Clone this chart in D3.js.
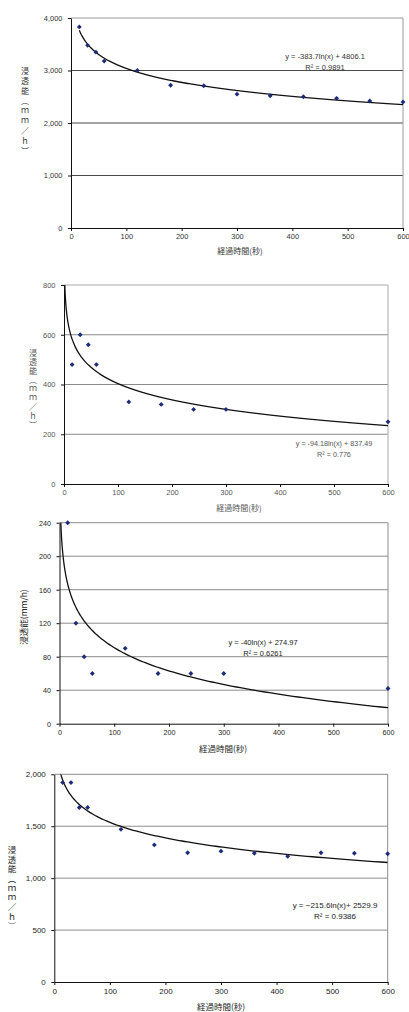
<!DOCTYPE html>
<html>
<head>
<meta charset="utf-8">
<script src="https://cdn.jsdelivr.net/npm/d3@7"></script>
<style>
  body { margin: 0; background: #fff; }
  svg { display: block; }
  text { font-family: "Liberation Sans", Arial, sans-serif; }
  .jp { font-family: "Noto Sans CJK JP", sans-serif; }
  .vert { writing-mode: vertical-rl; text-orientation: upright; }
</style>
</head>
<body>
<svg width="409" height="1012"></svg>
<script>
// data
const time13 = [15, 30, 45, 60, 120, 180, 240, 300, 360, 420, 480, 540, 600];
const time9 = [15, 30, 45, 60, 120, 180, 240, 300, 600];

const rateA = [3830, 3480, 3350, 3180, 3000, 2720, 2710, 2550, 2520, 2500, 2470, 2420, 2400];
const rateB = [480, 600, 560, 480, 330, 320, 300, 300, 250];
const rateC = [240, 120, 80, 60, 90, 60, 60, 60, 42];
const rateD = [1920, 1920, 1680, 1680, 1470, 1320, 1245, 1260, 1240, 1210, 1245, 1240, 1235];

const yTicksA = [0, 1000, 2000, 3000, 4000];
const yTicksB = [0, 200, 400, 600, 800];
const yTicksC = [0, 40, 80, 120, 160, 200, 240];
const yTicksD = [0, 500, 1000, 1500, 2000];
const xTicks = [0, 100, 200, 300, 400, 500, 600];

// log trendline coefficients y = a ln(x) + b, as printed
const trendA = [-383.7, 4806.1];
const trendB = [-94.18, 837.49];
const trendC = [-40, 274.97];
const trendD = [-215.6, 2529.9];

const eqA = ['y = -383.7ln(x) + 4806.1', 'R² = 0.9891'];
const eqB = ['y = -94.18ln(x) + 837.49', 'R² = 0.776'];
const eqC = ['y = -40ln(x) + 274.97', 'R² = 0.6261'];
const eqD = ['y = −215.6ln(x)+ 2529.9', 'R² = 0.9386'];

const xTitle = '経過時間(秒)';
const yTitleVert = '浸透能（ｍｍ／ｈ）';
const yTitleFlat = '浸透能(mm/h)';

const svg = d3.select('svg');

const panels = [
  { id: 'a', xs: time13, ys: rateA, yTicks: yTicksA, trend: trendA, eq: eqA, fromX: 15,
    left: 71, right: 403, top: 18, bottom: 228,
    grid: '#4a4a4a', box: '#9a9a9a', txt: '#333', fs: 7.5, tfs: 8,
    eqX: 325, eqY: 59, eqFs: 7.5, xtY: 254, xtX: 240,
    stack: { x: 25, y0: 67, ls: 2 } },
  { id: 'b', xs: time9, ys: rateB, yTicks: yTicksB, trend: trendB, fromX: 1,
    eq: eqB, left: 64, right: 388, top: 285, bottom: 484,
    grid: '#8a8a8a', box: '#aaaaaa', txt: '#555', fs: 7.5, tfs: 8,
    eqX: 334, eqY: 446, eqFs: 7.2, xtY: 511, xtX: 239,
    stack: { x: 33, y0: 349, ls: 1 } },
  { id: 'c', xs: time9, ys: rateC, yTicks: yTicksC, trend: trendC, fromX: 1,
    eq: eqC, left: 59.5, right: 388, top: 522.7, bottom: 723.7,
    grid: '#8c8c8c', box: '#8c8c8c', txt: '#222', fs: 7.2, tfs: 8.5,
    eqX: 263, eqY: 645, eqFs: 7.5, xtY: 752, xtX: 223,
    flat: { x: 27, y: 617 } },
  { id: 'd', xs: time13, ys: rateD, yTicks: yTicksD, trend: trendD, fromX: 1,
    eq: eqD, left: 54.3, right: 387.7, top: 774.3, bottom: 982,
    grid: '#8c8c8c', box: '#8c8c8c', txt: '#222', fs: 8, tfs: 8.5,
    eqX: 335, eqY: 908, eqFs: 8, xtY: 1010, xtX: 221,
    stack: { x: 12, y0: 846, ls: 1 } }
];

panels.forEach(p => {
  const x = d3.scaleLinear().domain([0, 600]).range([p.left, p.right]);
  const y = d3.scaleLinear().domain([0, d3.max(p.yTicks)]).range([p.bottom, p.top]);
  const g = svg.append('g');

  svg.append('clipPath').attr('id', 'clip-' + p.id)
    .append('rect')
      .attr('x', p.left).attr('y', p.top)
      .attr('width', p.right - p.left).attr('height', p.bottom - p.top);

  // grid lines
  g.selectAll('.grid').data(p.yTicks.filter(d => d > 0))
    .enter().append('line')
      .attr('x1', p.left).attr('x2', p.right)
      .attr('y1', d => y(d)).attr('y2', d => y(d))
      .attr('stroke', d => d === d3.max(p.yTicks) ? p.box : p.grid)
      .attr('stroke-width', 1);

  // right border
  g.append('line')
    .attr('x1', p.right).attr('x2', p.right)
    .attr('y1', p.top).attr('y2', p.bottom)
    .attr('stroke', p.box);

  // axes
  const yAxis = d3.axisLeft(y).tickValues(p.yTicks).tickFormat(d3.format(','))
    .tickSize(3).tickPadding(5.5).tickSizeOuter(0);
  const xAxis = d3.axisBottom(x).tickValues(xTicks)
    .tickSize(3).tickPadding(3).tickSizeOuter(0);

  const yg = g.append('g').attr('transform', `translate(${p.left},0)`).call(yAxis);
  const xg = g.append('g').attr('transform', `translate(0,${p.bottom})`).call(xAxis);
  [yg, xg].forEach(ax => {
    ax.select('.domain').attr('stroke', '#111');
    ax.selectAll('.tick line').attr('stroke', '#111');
    ax.selectAll('text')
      .attr('fill', p.txt)
      .style('font-size', p.fs + 'px')
      .style('font-family', '"Liberation Sans", Arial, sans-serif');
  });

  // trend line
  const a = p.trend[0], b = p.trend[1];
  const pts = d3.range(0, 301).map(i => {
    const xv = p.fromX * Math.pow(600 / p.fromX, i / 300);
    return [xv, a * Math.log(xv) + b];
  });
  g.append('path')
    .datum(pts)
    .attr('clip-path', `url(#clip-${p.id})`)
    .attr('fill', 'none')
    .attr('stroke', '#111')
    .attr('stroke-width', 1.3)
    .attr('d', d3.line().x(d => x(d[0])).y(d => y(d[1])));

  // markers
  g.selectAll('.pt').data(p.xs.map((d, i) => [d, p.ys[i]]))
    .enter().append('path')
      .attr('transform', d => `translate(${x(d[0])},${y(d[1])})`)
      .attr('d', d3.symbol(d3.symbolDiamond2, 15)())
      .attr('fill', '#1c2a78');

  // equation
  g.append('text')
    .attr('x', p.eqX).attr('y', p.eqY)
    .attr('text-anchor', 'middle')
    .attr('fill', p.txt)
    .style('font-size', p.eqFs + 'px')
    .text(p.eq[0]);
  g.append('text')
    .attr('x', p.eqX).attr('y', p.eqY + 11)
    .attr('text-anchor', 'middle')
    .attr('fill', p.txt)
    .style('font-size', p.eqFs + 'px')
    .text(p.eq[1]);

  // x title
  g.append('text')
    .attr('class', 'jp')
    .attr('x', p.xtX).attr('y', p.xtY)
    .attr('text-anchor', 'middle')
    .attr('fill', p.txt)
    .style('font-size', p.tfs + 'px')
    .text(xTitle);

  // y title
  if (p.stack) {
    g.append('text')
      .attr('class', 'jp vert')
      .attr('x', p.stack.x)
      .attr('y', p.stack.y0)
      .attr('fill', p.txt)
      .style('font-size', p.tfs + 'px')
      .style('letter-spacing', p.stack.ls + 'px')
      .text(yTitleVert);
  } else {
    g.append('text')
      .attr('class', 'jp')
      .attr('transform', `translate(${p.flat.x},${p.flat.y}) rotate(-90)`)
      .attr('text-anchor', 'middle')
      .attr('fill', p.txt)
      .style('font-size', p.tfs + 'px')
      .text(yTitleFlat);
  }
});
</script>
</body>
</html>
